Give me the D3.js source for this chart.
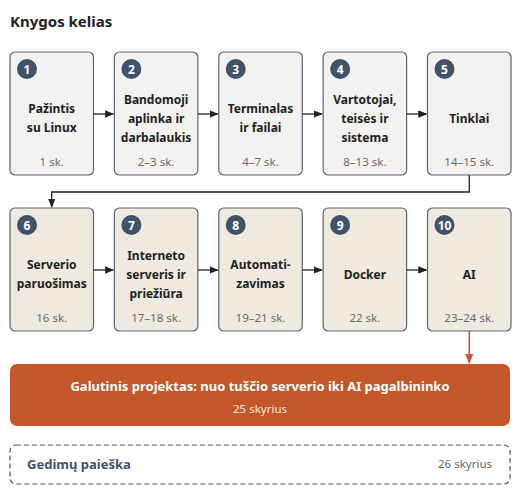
<!DOCTYPE html>
<html><head><meta charset="utf-8">
<script src="https://cdn.jsdelivr.net/npm/d3@7"></script>
<style>body{margin:0;background:#fff}svg{font-family:"Noto Sans",sans-serif}</style>
</head><body><svg width="520" height="492"></svg>
<script>
const titles=[["Pažintis","su Linux"],["Bandomoji","aplinka ir","darbalaukis"],["Terminalas","ir failai"],["Vartotojai,","teisės ir","sistema"],["Tinklai"],
["Serverio","paruošimas"],["Interneto","serveris ir","priežiūra"],["Automati-","zavimas"],["Docker"],["AI"]];
const chapters=["1 sk.","2–3 sk.","4–7 sk.","8–13 sk.","14–15 sk.","16 sk.","17–18 sk.","19–21 sk.","22 sk.","23–24 sk."];
const finalTitle="Galutinis projektas: nuo tuščio serverio iki AI pagalbininko", finalSub="25 skyrius";
const extraTitle="Gedimų paieška", extraSub="26 skyrius";
const svg=d3.select("svg");
const defs=svg.append("defs");
function marker(id,c){defs.append("marker").attr("id",id).attr("viewBox","0 0 10 10").attr("refX",9).attr("refY",5).attr("markerWidth",7).attr("markerHeight",7).attr("orient","auto").append("path").attr("d","M0,1L10,5L0,9z").attr("fill",c);}
marker("a","#222");marker("o","#c4582a");
svg.append("text").attr("x",10).attr("y",27).attr("font-size",15).attr("font-weight",700).attr("fill","#222").text("Knygos kelias");
const x=d3.scaleBand().domain(d3.range(5)).range([10,511]).paddingInner(0.2).paddingOuter(0);
const rowY=[52,208],bh=123,bw=x.bandwidth();
titles.forEach((t,i)=>{
 const c=i%5,r=Math.floor(i/5),x0=x(c),y0=rowY[r];
 const g=svg.append("g");
 g.append("rect").attr("x",x0).attr("y",y0).attr("width",bw).attr("height",bh).attr("rx",5).attr("fill",r?"#efe9df":"#f3f2f0").attr("stroke","#5b6571").attr("stroke-width",1.2);
 g.append("circle").attr("cx",x0+17).attr("cy",y0+17).attr("r",10).attr("fill","#3f536b");
 g.append("text").attr("x",x0+17).attr("y",y0+21.5).attr("text-anchor","middle").attr("font-size",12).attr("font-weight",700).attr("fill","#fff").text(i+1);
 const lh=19,cy=y0+66;
 t.forEach((s,k)=>g.append("text").attr("x",x0+bw/2).attr("y",cy+(k-(t.length-1)/2)*lh+4.5).attr("text-anchor","middle").attr("font-size",12).attr("font-weight",700).attr("fill","#222").text(s));
 g.append("text").attr("x",x0+bw/2).attr("y",y0+114).attr("text-anchor","middle").attr("font-size",11.5).attr("fill","#6b6b6b").text(chapters[i]);
 if(c<4) svg.append("line").attr("x1",x0+bw).attr("x2",x(c+1)-1).attr("y1",y0+62).attr("y2",y0+62).attr("stroke","#222").attr("stroke-width",1.3).attr("marker-end","url(#a)");
});
const mx4=x(4)+bw/2,mx0=x(0)+bw/2;
svg.append("path").attr("d",`M${mx4},${rowY[0]+bh}V192H${mx0}V${rowY[1]-1}`).attr("fill","none").attr("stroke","#222").attr("stroke-width",1.3).attr("marker-end","url(#a)");
svg.append("line").attr("x1",mx4).attr("x2",mx4).attr("y1",rowY[1]+bh).attr("y2",363).attr("stroke","#c4582a").attr("stroke-width",1.5).attr("marker-end","url(#o)");
svg.append("rect").attr("x",10).attr("y",364).attr("width",500).attr("height",62).attr("rx",7).attr("fill","#c4582a");
svg.append("text").attr("x",260).attr("y",391).attr("text-anchor","middle").attr("font-size",13).attr("font-weight",700).attr("fill","#fff").text(finalTitle);
svg.append("text").attr("x",260).attr("y",413).attr("text-anchor","middle").attr("font-size",11.5).attr("fill","#fbe6dc").text(finalSub);
svg.append("rect").attr("x",10).attr("y",445).attr("width",500).attr("height",39).attr("rx",6).attr("fill","#fff").attr("stroke","#555").attr("stroke-width",1.2).attr("stroke-dasharray","5,3");
svg.append("text").attr("x",27).attr("y",469).attr("font-size",13).attr("font-weight",700).attr("fill","#3f536b").text(extraTitle);
svg.append("text").attr("x",492).attr("y",468).attr("text-anchor","end").attr("font-size",11.5).attr("fill","#666").text(extraSub);
</script></body></html>
